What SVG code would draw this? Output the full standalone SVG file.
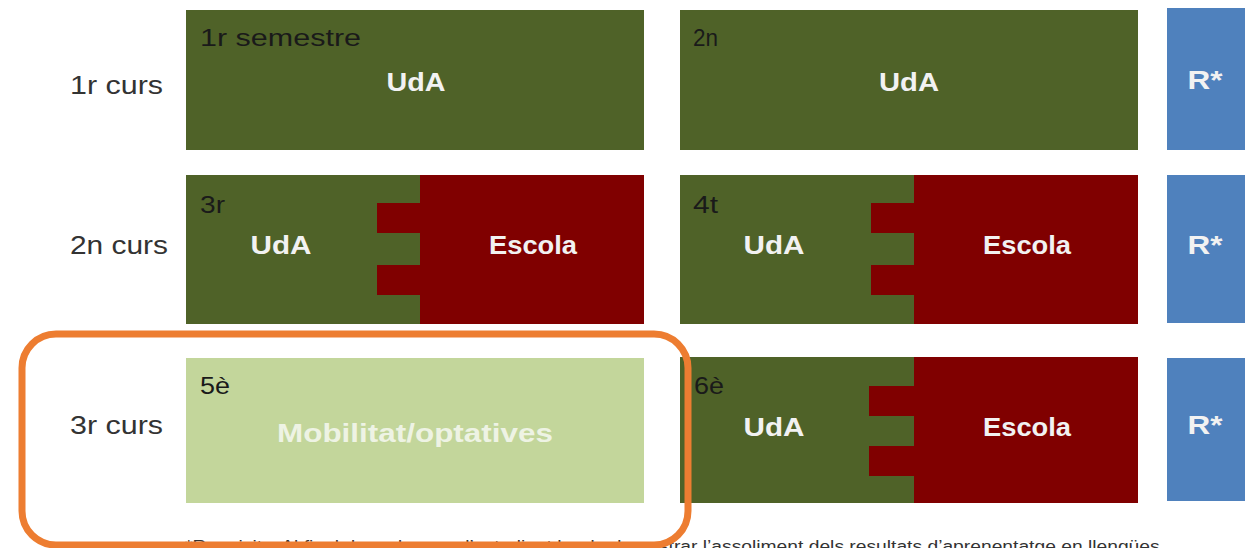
<svg xmlns="http://www.w3.org/2000/svg" width="1245" height="548" viewBox="0 0 1245 548">
<style>
.bg{fill:#ffffff}
.dg{fill:#4f6228}
.rd{fill:#800000}
.lg{fill:#c3d69b}
.bl{fill:#4f81bd}
.row{font-family:"Liberation Sans",Arial,sans-serif;font-size:26px;fill:#333333}
.corner{font-family:"Liberation Sans",Arial,sans-serif;font-size:24px;fill:#1a1a1a}
.main{font-family:"Liberation Sans",Arial,sans-serif;font-size:26px;font-weight:bold;fill:#f2f2f2;text-anchor:middle}
.mob{font-family:"Liberation Sans",Arial,sans-serif;font-size:25px;font-weight:bold;fill:#eef3e4;text-anchor:middle}
.note{font-family:"Liberation Sans",Arial,sans-serif;font-size:16px;fill:#333333}
</style>
<rect class="bg" x="0" y="0" width="1245" height="548"/>

<g id="labels">
<text class="row" x="70" y="94" textLength="93" lengthAdjust="spacingAndGlyphs">1r curs</text>
<text class="row" x="70" y="254" textLength="98" lengthAdjust="spacingAndGlyphs">2n curs</text>
<text class="row" x="70" y="434" textLength="93" lengthAdjust="spacingAndGlyphs">3r curs</text>
</g>

<g id="sem1">
<rect class="dg" x="186" y="10" width="458" height="140"/>
<text class="corner" x="200" y="46" textLength="161" lengthAdjust="spacingAndGlyphs">1r semestre</text>
<text class="main" x="416" y="91" textLength="59" lengthAdjust="spacingAndGlyphs">UdA</text>
</g>

<g id="sem2">
<rect class="dg" x="680" y="10" width="458" height="140"/>
<text class="corner" x="693" y="46" textLength="25" lengthAdjust="spacingAndGlyphs">2n</text>
<text class="main" x="909" y="91" textLength="60" lengthAdjust="spacingAndGlyphs">UdA</text>
</g>

<g id="r1">
<rect class="bl" x="1167" y="8" width="78" height="142"/>
<text class="main" x="1205" y="89" textLength="35" lengthAdjust="spacingAndGlyphs">R*</text>
</g>

<g id="sem3">
<rect class="dg" x="186" y="175" width="458" height="149"/>
<path class="rd" d="M420 175H644V324H420V295H377V265H420V233H377V203H420Z"/>
<text class="corner" x="200" y="213" textLength="25" lengthAdjust="spacingAndGlyphs">3r</text>
<text class="main" x="281" y="254" textLength="61" lengthAdjust="spacingAndGlyphs">UdA</text>
<text class="main" x="533" y="254" textLength="88" lengthAdjust="spacingAndGlyphs">Escola</text>
</g>

<g id="sem4">
<rect class="dg" x="680" y="175" width="458" height="149"/>
<path class="rd" d="M914 175H1138V324H914V295H871V265H914V233H871V203H914Z"/>
<text class="corner" x="693" y="213" textLength="25" lengthAdjust="spacingAndGlyphs">4t</text>
<text class="main" x="774" y="254" textLength="61" lengthAdjust="spacingAndGlyphs">UdA</text>
<text class="main" x="1027" y="254" textLength="88" lengthAdjust="spacingAndGlyphs">Escola</text>
</g>

<g id="r2">
<rect class="bl" x="1167" y="175" width="78" height="148"/>
<text class="main" x="1205" y="254" textLength="35" lengthAdjust="spacingAndGlyphs">R*</text>
</g>

<g id="sem5">
<rect class="lg" x="186" y="358" width="458" height="145"/>
<text class="corner" x="200" y="394" textLength="30" lengthAdjust="spacingAndGlyphs">5è</text>
<text class="mob" x="415" y="442" textLength="276" lengthAdjust="spacingAndGlyphs">Mobilitat/optatives</text>
</g>

<g id="sem6">
<rect class="dg" x="680" y="357" width="458" height="146"/>
<path class="rd" d="M914 357H1138V503H914V476H869V446H914V416H869V386H914Z"/>
<text class="corner" x="694" y="394" textLength="30" lengthAdjust="spacingAndGlyphs">6è</text>
<text class="main" x="774" y="436" textLength="61" lengthAdjust="spacingAndGlyphs">UdA</text>
<text class="main" x="1027" y="436" textLength="88" lengthAdjust="spacingAndGlyphs">Escola</text>
</g>

<g id="r3">
<rect class="bl" x="1167" y="358" width="78" height="143"/>
<text class="main" x="1205" y="434" textLength="35" lengthAdjust="spacingAndGlyphs">R*</text>
</g>

<g id="footnote">
<text class="note" x="185" y="552" textLength="980" lengthAdjust="spacingAndGlyphs">*Requisits: Al final de cada curs, l’estudiant ha de demostrar l’assoliment dels resultats d’aprenentatge en llengües.</text>
</g>

<g id="highlight">
<rect x="22" y="334" width="666" height="211" rx="34" ry="34" fill="none" stroke="#ed7d31" stroke-width="7"/>
</g>
</svg>
